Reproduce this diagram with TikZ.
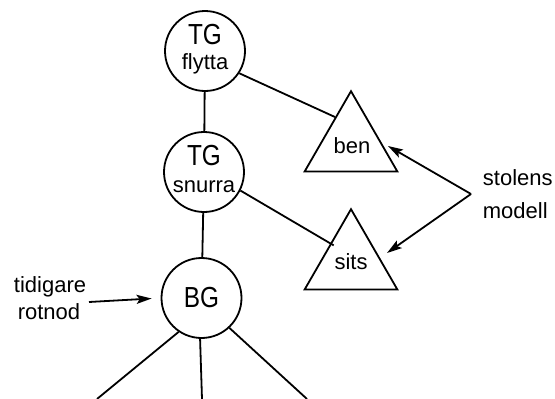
\documentclass[tikz,border=0pt]{standalone}
\usepackage{fontspec}
\setmainfont{Liberation Sans}
\usetikzlibrary{shapes.geometric,arrows.meta}
\begin{document}
\begin{tikzpicture}[x=1pt,y=-1pt,
  every path/.style={line width=1.8pt},
  circ/.style={draw,circle,minimum size=80pt,inner sep=0pt},
  tri/.style={draw,regular polygon,regular polygon sides=3,minimum size=107pt,inner sep=0pt},
  big/.style={inner sep=0pt,anchor=base,font=\fontsize{29}{29}\selectfont},
  small/.style={inner sep=0pt,anchor=base,font=\fontsize{22}{22}\selectfont},
  arr/.style={-{Stealth[length=15pt,width=9pt,inset=3pt]}}]
\useasboundingbox (0,0) rectangle (555,399);
% circles
\node[circ] (f) at (205,51) {};
\node[big] (ftg) at (205,44) {\scalebox{0.84}[1]{TG}};
\node[small] (fn) at (205,69) {flytta};
\node[circ] (s) at (204,172) {};
\node[big] (stg) at (204,165) {\scalebox{0.84}[1]{TG}};
\node[small] (sn) at (204,192) {snurra};
\node[circ] (b) at (201.5,298) {};
\node[big] (btg) at (201.5,307) {\scalebox{0.84}[1]{BG}};
% triangles
\node[tri] (ben) at (351,144.7) {};
\node[small] (bent) at (352,153) {ben};
\node[tri] (sits) at (351,262.7) {};
\node[small] (sitst) at (351,269) {sits};
% tree edges
\draw (f) -- (s);
\draw (s) -- (b);
\draw (f.-33) -- (ben.120);
\draw[shorten >=-4pt] (s.-27) -- (sits.137);
\coordinate (l1) at (97,399);
\coordinate (l2) at (202,399);
\coordinate (l3) at (307,399);
\draw (b.-124) -- (l1);
\draw (b.-92) -- (l2);
\draw (b.-47) -- (l3);
% labels
\node[small] (tid) at (50,292) {tidigare};
\node[small] (rot) at (49,319) {rotnod};
\coordinate (tidS) at (89,302);
\draw[arr,shorten >=9pt] (tidS) -- (b.west);
\node[small,anchor=base west] (sto) at (482,185) {stolens};
\node[small,anchor=base west] (mod) at (482,218) {modell};
\coordinate (sm) at (471,194);
\coordinate (benTip) at (388,146);
\coordinate (sitsTip) at (387,253);
\draw[arr] (sm) -- (benTip);
\draw[arr] (sm) -- (sitsTip);
\end{tikzpicture}
\end{document}
